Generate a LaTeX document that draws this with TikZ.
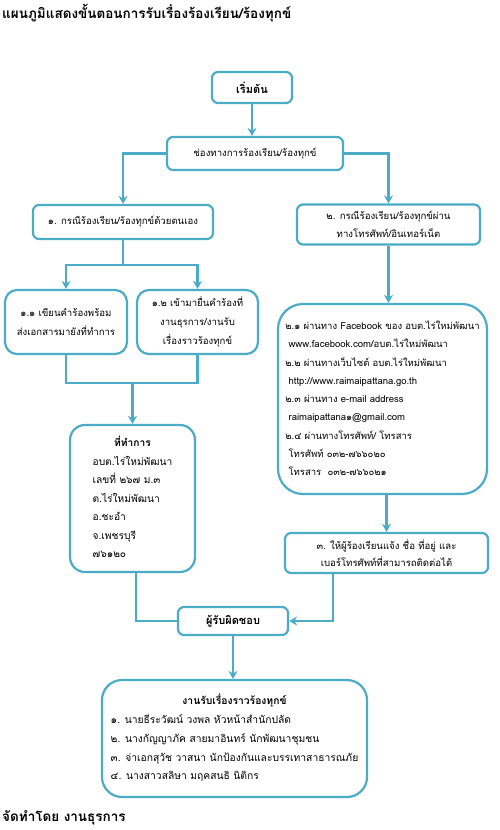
\documentclass[tikz,border=0pt]{standalone}
\usepackage{fontspec}
\setmainfont[Script=Thai]{Loma}
\usetikzlibrary{arrows.meta}
\definecolor{aqua}{HTML}{4BACC6}
\tikzset{
  box/.style={draw=aqua, line width=2.2pt, rounded corners=6pt, fill=white, align=center, inner sep=0pt,
    font=\fontsize{9.6}{17.5}\selectfont},
  conn/.style={draw=aqua, line width=2.2pt},
  arr/.style={conn, -{Stealth[length=8pt,width=9pt]}},
}
\begin{document}
\begin{tikzpicture}[x=1pt,y=-1pt]
\useasboundingbox (0,0) rectangle (500,830);
% title and footer
\node[anchor=west, inner sep=0pt, font=\bfseries\fontsize{13.5}{15}\selectfont] (title) at (2,13) {แผนภูมิแสดงขั้นตอนการรับเรื่องร้องเรียน/ร้องทุกข์};
\node[anchor=west, inner sep=0pt, font=\bfseries\fontsize{13.5}{15}\selectfont] (footer) at (2,818) {จัดทำโดย งานธุรการ};
% boxes
\node[box, minimum width=80, minimum height=31, font=\bfseries\fontsize{11}{14}\selectfont] (start) at (252,87.5) {เริ่มต้น};
\node[box, minimum width=176, minimum height=33] (chan) at (255,153.5) {ช่องทางการร้องเรียน/ร้องทุกข์};
\node[box, minimum width=180, minimum height=34] (b1) at (123,222) {๑. กรณีร้องเรียน/ร้องทุกข์ด้วยตนเอง};
\node[box, minimum width=183, minimum height=40] (b2) at (388.5,224.5) {๒. กรณีร้องเรียน/ร้องทุกข์ผ่าน\\ทางโทรศัพท์/อินเทอร์เน็ต};
\node[box, rounded corners=12pt, minimum width=122, minimum height=64, font=\fontsize{9.6}{19.5}\selectfont] (b11) at (66,322) {๑.๑ เขียนคำร้องพร้อม\\ส่งเอกสารมายังที่ทำการ};
\node[box, rounded corners=12pt, minimum width=121, minimum height=64, font=\fontsize{9.6}{19}\selectfont] (b12) at (197.5,322) {๑.๒ เข้ามายื่นคำร้องที่\\งานธุรการ/งานรับ\\เรื่องราวร้องทุกข์};
\node[box, rounded corners=15pt, minimum width=125, minimum height=147, font=\fontsize{10.2}{18.5}\selectfont] (office) at (132.5,498.5) {%
  \begin{tabular}{@{}l@{}}\multicolumn{1}{c}{\bfseries ที่ทำการ}\\
  อบต.ไร่ใหม่พัฒนา\\ เลขที่ ๒๖๗ ม.๓\\ ต.ไร่ใหม่พัฒนา\\ อ.ชะอำ\\ จ.เพชรบุรี\\ ๗๖๑๒๐\end{tabular}};
\node[box, rounded corners=25pt, minimum width=209, minimum height=190, font=\fontsize{9.5}{18.3}\selectfont] (b2x) at (382.5,399) {%
  \begin{tabular}{@{}l@{}}
  ๒.๑ ผ่านทาง Facebook ของ อบต.ไร่ใหม่พัฒนา\\
  \ www.facebook.com/อบต.ไร่ใหม่พัฒนา\\
  ๒.๒ ผ่านทางเว็บไซต์ อบต.ไร่ใหม่พัฒนา\\
  \ http://www.raimaipattana.go.th\\
  ๒.๓ ผ่านทาง e-mail address\\
  \ raimaipattana๑@gmail.com\\
  ๒.๔ ผ่านทางโทรศัพท์/ โทรสาร\\
  \ โทรศัพท์ ๐๓๒-๗๖๖๐๒๐\\
  \ โทรสาร\ \ ๐๓๒-๗๖๖๐๒๑
  \end{tabular}};
\node[box, minimum width=203, minimum height=40] (b3) at (386.5,553) {๓. ให้ผู้ร้องเรียนแจ้ง ชื่อ ที่อยู่ และ\\เบอร์โทรศัพท์ที่สามารถติดต่อได้};
\node[box, minimum width=110, minimum height=28, font=\bfseries\fontsize{11}{14}\selectfont] (resp) at (233,621) {ผู้รับผิดชอบ};
\node[box, rounded corners=20pt, minimum width=265, minimum height=117, font=\fontsize{10.3}{18.8}\selectfont] (team) at (234.5,738.5) {%
  \begin{tabular}{@{}l@{}}\multicolumn{1}{c}{\bfseries งานรับเรื่องราวร้องทุกข์}\\
  ๑. นายธีระวัฒน์ วงพล หัวหน้าสำนักปลัด\\
  ๒. นางกัญญาภัค สายมาอินทร์ นักพัฒนาชุมชน\\
  ๓. จ่าเอกสุวัช วาสนา นักป้องกันและบรรเทาสาธารณภัย\\
  ๔. นางสาวสลิษา มฤคสนธิ นิติกร\end{tabular}};
% junction coordinates
\coordinate (s1) at (123,265);
\coordinate (m1) at (132.5,383);
\coordinate (r1) at (136,621);
\coordinate (r2) at (333,621);
% connectors
\draw[arr] (start.south) -- (start.south |- chan.north);
\draw[arr] (chan.west) -| (b1.north);
\draw[arr] (chan.east) -| (b2.north);
\draw[conn] (b1.south) -- (s1);
\draw[arr] (s1) -| (b11.north);
\draw[arr] (s1) -| (b12.north);
\draw[conn] (b11.south) |- (m1);
\draw[conn] (b12.south) |- (m1);
\draw[arr] (m1) -- (office.north);
\draw[arr] (b2.south) -- (b2.south |- b2x.north);
\draw[arr] (b3.north |- b2x.south) -- (b3.north);
\draw[conn] (office.south -| r1) -- (r1) -- (resp.west);
\draw[arr] (b3.south -| r2) -- (r2) -- (resp.east);
\draw[arr] (resp.south) -- (resp.south |- team.north);
\end{tikzpicture}
\end{document}
